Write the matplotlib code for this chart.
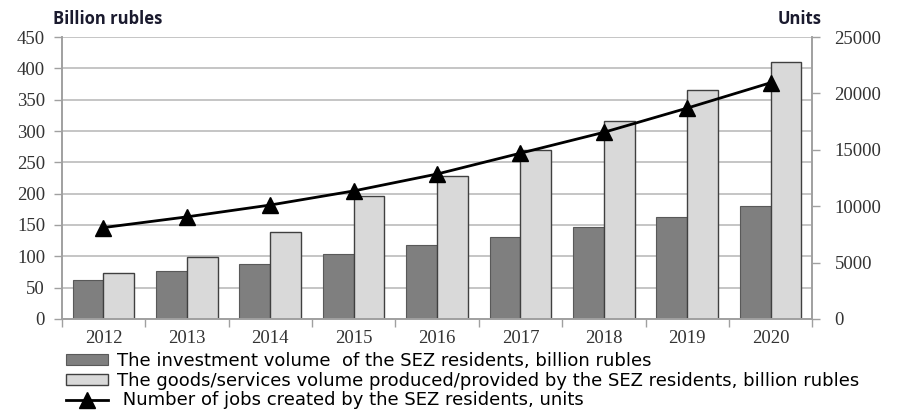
import numpy as np
import matplotlib.pyplot as plt
from matplotlib.ticker import FixedLocator

years = ["2012", "2013", "2014", "2015", "2016", "2017", "2018", "2019", "2020"]
investment = [62, 76, 88, 103, 118, 130, 146, 163, 180]
goods = [73, 99, 139, 196, 228, 270, 316, 365, 410]
jobs = [8100, 9050, 10100, 11350, 12850, 14700, 16550, 18700, 20950]

lab_inv = "The investment volume  of the SEZ residents, billion rubles"
lab_goods = "The goods/services volume produced/provided by the SEZ residents, billion rubles"
lab_jobs = " Number of jobs created by the SEZ residents, units"

serif = "Liberation Serif"
sans = "DejaVu Sans"

fig = plt.figure(figsize=(9.22, 4.12), dpi=100)
ax = fig.add_axes([0.067, 0.226, 0.814, 0.684])
ax2 = ax.twinx()

x = np.arange(len(years))
w = 0.37
b1 = ax.bar(x - w / 2, investment, w, color="#7f7f7f", edgecolor="#595959",
            linewidth=0.8, label=lab_inv, zorder=2)
b2 = ax.bar(x + w / 2, goods, w, color="#d9d9d9", edgecolor="#404040",
            linewidth=1.0, label=lab_goods, zorder=2)
ln, = ax2.plot(x, jobs, color="black", lw=2, marker="^", markersize=11,
               label=lab_jobs, zorder=3)

ax.set_xlim(-0.5, len(years) - 0.5)
ax.set_ylim(0, 450)
ax.set_yticks(np.arange(0, 451, 50))
ax2.set_ylim(0, 25000)
ax2.set_yticks(np.arange(0, 25001, 5000))

ax.yaxis.grid(True, color="#c0c0c0", lw=1.3, zorder=0)
ax.set_axisbelow(True)

ax.set_xticks(x)
ax.set_xticklabels(years)
ax.xaxis.set_minor_locator(FixedLocator(np.arange(-0.5, len(years), 1)))
ax.tick_params(axis="x", which="major", length=0, pad=8)
ax.tick_params(axis="x", which="minor", length=6, color="#a0a0a0", width=1)
ax.tick_params(axis="y", length=6, color="#a0a0a0", width=1, pad=6)
ax2.tick_params(axis="y", length=6, color="#a0a0a0", width=1, pad=10)

for lbl in ax.get_xticklabels() + ax.get_yticklabels() + ax2.get_yticklabels():
    lbl.set_fontfamily(serif)
    lbl.set_fontsize(13.5)
    lbl.set_color("#333333")

for a in (ax, ax2):
    a.spines["top"].set_visible(False)
    for s in ("left", "right", "bottom"):
        a.spines[s].set_color("#a0a0a0")
        a.spines[s].set_linewidth(1.2)

fig.text(0.057, 0.933, "Billion rubles", fontfamily="Open Sans", fontweight="bold",
         fontsize=12, color="#1a1a2e", va="bottom")
fig.text(0.843, 0.933, "Units", fontfamily="Open Sans", fontweight="bold",
         fontsize=12, color="#1a1a2e", va="bottom")

leg = fig.legend([b1, b2, ln], [lab_inv, lab_goods, lab_jobs], loc="upper left",
                 bbox_to_anchor=(0.062, 0.168), frameon=False,
                 prop={"family": sans, "size": 13}, handlelength=2.3,
                 handleheight=0.55, handletextpad=0.5, labelspacing=0.1,
                 borderpad=0)

fig.savefig("out.png", dpi=100)
